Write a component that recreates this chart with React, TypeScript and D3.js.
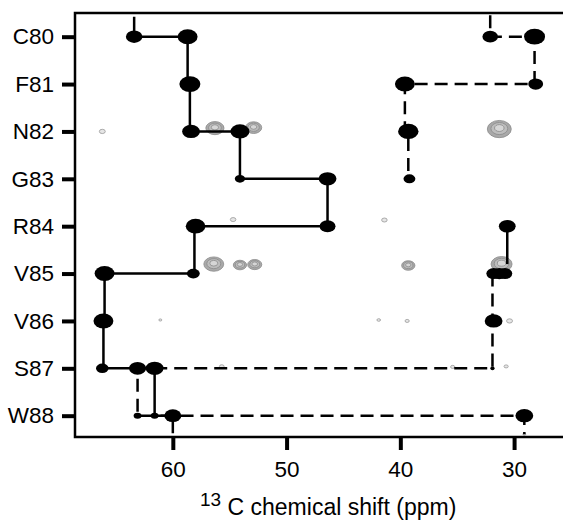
import React, { useRef, useEffect } from "react";
import {
  select,
  scaleLinear,
  scalePoint,
  scaleSqrt,
  axisLeft,
  axisBottom,
  line
} from "d3";

const residues = ["C80", "F81", "N82", "G83", "R84", "V85", "V86", "S87", "W88"];
const xTicks = [60, 50, 40, 30];

// sequential C-alpha walk, residues 79..88 (ppm)
const caWalk = [63.4, 58.7, 58.5, 54.1, 46.4, 58.1, 66.0, 66.1, 61.6, 60.0];
// C-beta walk, broken at G83 and R84
const cbWalkA = [32.1, 28.2, 39.6, 39.3];
const cbWalkB = [30.6];
const cbWalkC = [31.9, 63.1, 29.1];

// strong peaks: residue, ppm, relative intensity
const strongPeaks: [string, number, number][] = [
  ["C80", 63.4, 0.62], ["C80", 58.7, 0.9], ["C80", 32.1, 0.55], ["C80", 28.2, 1.0],
  ["F81", 58.5, 1.0], ["F81", 39.6, 0.9], ["F81", 28.1, 0.5],
  ["N82", 58.4, 0.72], ["N82", 54.1, 0.82], ["N82", 39.3, 0.95],
  ["G83", 54.1, 0.24], ["G83", 46.4, 0.72], ["G83", 39.2, 0.32],
  ["R84", 58.0, 0.88], ["R84", 46.4, 0.58], ["R84", 30.6, 0.64],
  ["V85", 66.0, 0.9], ["V85", 58.2, 0.38], ["V85", 31.8, 0.48], ["V85", 31.3, 0.5], ["V85", 30.8, 0.48],
  ["V86", 66.1, 0.9], ["V86", 31.8, 0.72],
  ["S87", 66.2, 0.36], ["S87", 63.1, 0.66], ["S87", 61.6, 0.72], ["S87", 31.9, 0.04],
  ["W88", 63.1, 0.14], ["W88", 61.6, 0.14], ["W88", 60.0, 0.66], ["W88", 29.1, 0.72]
];

// weak (grey) peaks: residue, ppm, row offset, relative intensity
const weakPeaks: [string, number, number, number][] = [
  ["N82", 66.2, 0.0, 0.08], ["N82", 56.3, -0.07, 0.75], ["N82", 52.9, -0.08, 0.6],
  ["N82", 31.3, -0.05, 1.3],
  ["R84", 54.7, -0.14, 0.07], ["R84", 41.4, -0.13, 0.07],
  ["V85", 56.4, -0.2, 0.9], ["V85", 54.1, -0.18, 0.4], ["V85", 52.8, -0.19, 0.45],
  ["V85", 39.3, -0.17, 0.4], ["V85", 31.1, -0.2, 1.0],
  ["V86", 61.1, -0.02, 0.02], ["V86", 41.9, -0.02, 0.03], ["V86", 39.4, 0.0, 0.04],
  ["V86", 30.4, 0.0, 0.08],
  ["S87", 55.7, -0.04, 0.05], ["S87", 35.4, -0.03, 0.04], ["S87", 30.7, -0.04, 0.04],
  ["W88", 29.1, 0.39, 0.01]
];

const font = "'Liberation Sans', Arial, Helvetica, sans-serif";

function StripPlot() {
  const svgRef = useRef(null);

  useEffect(() => {
    const svg = select(svgRef.current);
    svg.selectAll("*").remove();

    const x = scaleLinear().domain([68.6, 25.7]).range([75, 563]);
    const row = scaleLinear().domain([-0.5, 8.45]).range([13, 437]);
    const y = scalePoint().domain(residues).range([row(0), row(residues.length - 1)]);
    const size = scaleSqrt().domain([0, 1]).range([0, 10.5]);
    const rowOf = (r: string) => residues.indexOf(r);

    // grey contour peaks
    const weak = svg.append("g");
    weakPeaks.forEach(([res, ppm, dr, v]) => {
      const cx = x(ppm);
      const cy = row(rowOf(res) + dr);
      const rx = size(v);
      const ry = rx * 0.72;
      if (rx < 3.5) {
        weak.append("ellipse")
          .attr("cx", cx).attr("cy", cy)
          .attr("rx", Math.max(rx, 1.5)).attr("ry", Math.max(ry, 1))
          .attr("fill", "#e6e6e6").attr("stroke", "#999").attr("stroke-width", 0.8);
        return;
      }
      const fills = ["#a9a9a9", "#bdbdbd", "#d6d6d6"];
      [1, 0.7, 0.4].forEach((k, i) => {
        weak.append("ellipse")
          .attr("cx", cx).attr("cy", cy - (1 - k) * ry * 0.2)
          .attr("rx", rx * k).attr("ry", ry * k)
          .attr("fill", fills[i]).attr("stroke", "#8a8a8a").attr("stroke-width", 0.8);
      });
    });

    // walk lines
    const stepLine = line<[number, number]>()
      .x(d => x(d[0]))
      .y(d => row(d[1]));
    const walk = (values: number[], startRow: number, head: number, tail: number) => {
      const pts: [number, number][] = [[values[0], head]];
      for (let k = 0; k < values.length - 1; k++) {
        pts.push([values[k], startRow + k], [values[k + 1], startRow + k]);
      }
      pts.push([values[values.length - 1], tail]);
      return stepLine(pts);
    };
    const lines = svg.append("g").attr("fill", "none").attr("stroke", "black").attr("stroke-width", 2.5);
    lines.append("path").attr("d", walk(cbWalkA, 0, -0.45, 3)).attr("stroke-dasharray", "13,7");
    lines.append("path").attr("d", walk(cbWalkC, 7, 5, 8.39)).attr("stroke-dasharray", "13,7");
    lines.append("path").attr("d", walk(cbWalkB, 4, 4, 4.8));
    lines.append("path").attr("d", walk(caWalk, 0, -0.42, 8.37));

    // strong black peaks
    svg.append("g")
      .selectAll("ellipse")
      .data(strongPeaks)
      .join("ellipse")
      .attr("cx", d => x(d[1]))
      .attr("cy", d => y(d[0]))
      .attr("rx", d => Math.max(size(d[2]), 2))
      .attr("ry", d => Math.max(size(d[2]) * 0.75, 2))
      .attr("fill", "black");

    // frame
    svg.append("path")
      .attr("d", "M563,13H75V437H563")
      .attr("fill", "none")
      .attr("stroke", "black")
      .attr("stroke-width", 2.5);

    const yAxis = axisLeft(y).tickSize(13).tickPadding(8);
    const gy = svg.append("g").attr("transform", "translate(75,0)").call(yAxis);
    const xAxis = axisBottom(x).tickValues(xTicks).tickSize(13).tickPadding(11);
    const gx = svg.append("g").attr("transform", "translate(0,437)").call(xAxis);
    [gx, gy].forEach(g => {
      g.select(".domain").remove();
      g.selectAll(".tick line").attr("stroke", "black").attr("stroke-width", 4);
      g.selectAll(".tick text")
        .attr("fill", "black")
        .style("font-family", font)
        .style("font-size", "22.5px");
    });

    const title = svg.append("text")
      .attr("x", 200)
      .attr("y", 515)
      .attr("fill", "black")
      .style("font-family", font)
      .style("white-space", "pre");
    title.append("tspan").attr("dy", -9).style("font-size", "19px").text("13");
    title.append("tspan").attr("dy", 9).style("font-size", "23px").text(" C chemical shift (ppm)");
  }, []);

  return (
    <svg
      ref={svgRef}
      width={563}
      height={523}
      style={{ position: "absolute", left: 0, top: 0, background: "white" }}
    />
  );
}

export default function App() {
  return <StripPlot />;
}
